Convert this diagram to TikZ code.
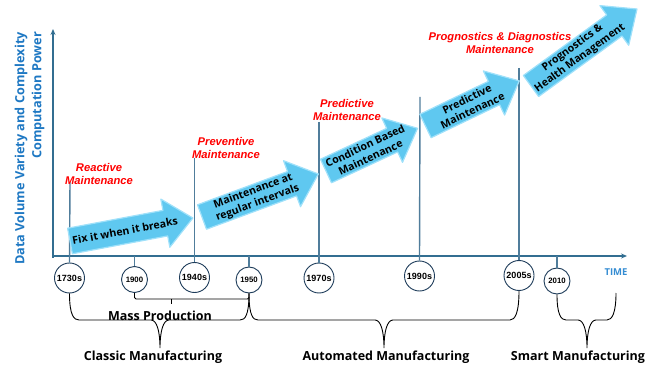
\documentclass[tikz,border=0pt]{standalone}
\usepackage{fontspec}
\setmainfont{Liberation Sans}
\newfontfamily\osans{Open Sans}
\usetikzlibrary{arrows.meta}
\definecolor{ylab}{RGB}{30,120,195}
\definecolor{timec}{RGB}{52,140,210}
\definecolor{axisc}{RGB}{50,110,145}
\definecolor{evc}{RGB}{80,125,155}
\definecolor{circc}{RGB}{30,60,90}
\definecolor{arrfill}{RGB}{95,200,240}
\definecolor{arredge}{RGB}{160,225,250}
\definecolor{redlab}{RGB}{255,0,0}
\newcommand{\flowarrow}[7]{%
\begin{scope}[shift={(#1,#2)}, rotate=#3]
\path[arrowbody] (0,-13) -- ({#4-28},-13) -- ({#4-28},-24.5) -- (#4,0) -- ({#4-28},24.5) -- ({#4-28},13) -- (0,13) -- cycle;
\node[arrowtext] (#6) at (#5,0) {#7};
\end{scope}}
\begin{document}
\begin{tikzpicture}[x=1pt,y=-1pt,
  axisline/.style={draw=axisc, line width=1.4pt},
  evline/.style={draw=evc, line width=1.4pt},
  yearc/.style={circle, draw=circc, fill=white, line width=0.9pt, inner sep=0pt, font=\bfseries\fontsize{9}{10}\selectfont},
  smallyear/.style={yearc, font=\bfseries\fontsize{7.8}{9}\selectfont},
  arrowbody/.style={fill=arrfill, draw=arredge, line width=1.2pt, line join=round},
  arrowtext/.style={align=center, transform shape, inner sep=0pt, font=\osans\bfseries\fontsize{10.6}{12.6}\selectfont},
  redtext/.style={align=center, inner sep=0pt, text=redlab, font=\bfseries\itshape\fontsize{11.2}{13.5}\selectfont},
  bracelab/.style={inner sep=0pt, font=\osans\bfseries\fontsize{12.5}{14}\selectfont},
  brace/.style={draw=black, line width=0.9pt},
]
\useasboundingbox (0,0) rectangle (656,366);
% axes
\coordinate (yb) at (53,258);
\coordinate (yt) at (53,29);
\coordinate (xl) at (52,256);
\coordinate (xr) at (627,256);
\draw[axisline, -{Stealth[length=6pt,width=5pt]}] (yb) -- (yt);
\draw[axisline, -{Stealth[length=6pt,width=5pt]}] (xl) -- (xr);
% y label
\node[rotate=90, anchor=east, inner sep=0pt, text=ylab, font=\osans\bfseries\fontsize{12.7}{14}\selectfont] (ylab1) at (21,32) {Data Volume Variety and Complexity};
\node[rotate=90, anchor=east, inner sep=0pt, text=ylab, font=\osans\bfseries\fontsize{12.7}{14}\selectfont] (ylab2) at (38,32) {Computation Power};
\node[inner sep=0pt, text=timec, font=\osans\bfseries\fontsize{9.5}{11}\selectfont] (time) at (616,272) {TIME};
% year circles
\node[yearc, minimum size=30pt] (c1730) at (69.5,278) {1730s};
\node[smallyear, minimum size=26pt] (c1900) at (134.5,279.5) {1900};
\node[yearc, minimum size=30pt] (c1940) at (194.5,277.5) {1940s};
\node[smallyear, minimum size=26pt] (c1950) at (249,280) {1950};
\node[yearc, minimum size=30pt] (c1970) at (319,278) {1970s};
\node[yearc, minimum size=30pt] (c1990) at (419.5,276) {1990s};
\node[yearc, minimum size=30pt] (c2005) at (519,275.5) {2005s};
\node[smallyear, minimum size=26pt] (c2010) at (557,281) {2010};
% event lines
\coordinate (t1730) at (70,182);
\coordinate (t1900) at (134.5,256);
\coordinate (t1940) at (194.5,158);
\coordinate (t1950) at (249,256);
\coordinate (t1970) at (319,122);
\coordinate (t1990) at (420,97);
\coordinate (t2005) at (519,68);
\coordinate (t2010) at (557,256);
\draw[evline] (t1730) -- (c1730.north);
\draw[evline] (t1900) -- (c1900.north);
\draw[evline] (t1940) -- (c1940.north);
\draw[evline] (t1950) -- (c1950.north);
\draw[evline] (t1970) -- (c1970.north);
\draw[evline] (t1990) -- (c1990.north);
\draw[evline] (t2005) -- (c2005.north);
\draw[evline] (t2010) -- (c2010.north);
% flow arrows
\flowarrow{70}{241}{10.6}{125}{56}{a1}{Fix it when it breaks}
\flowarrow{202}{217}{20.3}{124}{57}{a2}{Maintenance at\\regular intervals}
\flowarrow{326}{171}{25}{101}{46}{a3}{Condition Based\\Maintenance}
\flowarrow{425.5}{126}{25.7}{104}{49}{a4}{Predictive\\Maintenance}
\flowarrow{531}{86}{36}{131}{56}{a5}{Prognostics \&\\Health Management}
% red labels
\node[redtext] (r1) at (99,174) {Reactive\\Maintenance};
\node[redtext] (r2) at (226,148) {Preventive\\Maintenance};
\node[redtext] (r3) at (347,110) {Predictive\\Maintenance};
\node[redtext] (r4) at (500,43) {Prognostics \& Diagnostics\\Maintenance};
% mass production bracket
\coordinate (mp1) at (134.5,299);
\coordinate (mp2) at (249,299);
\coordinate (mpc) at (171,299);
\coordinate (mpt) at (171,304);
\draw[brace, rounded corners=1.5pt] (c1900.south) -- (mp1) -- (mp2) -- (c1950.south);
\draw[brace] (mpc) -- (mpt);
\node[bracelab] (mass) at (160,316) {Mass Production};
% classic brace
\draw[brace] (c1730.south) .. controls +(0,22) and +(-5,0) .. (79,320) -- (151,320) .. controls +(6,0) and +(0,-16) .. (160,348) .. controls +(0,-16) and +(-6,0) .. (169,320) -- (240,320) .. controls +(5,0) and +(0,22) .. (c1950.south);
\node[bracelab] (classic) at (153,357) {Classic Manufacturing};
% automated brace
\draw[brace] (c1950.south) .. controls +(0,22) and +(-5,0) .. (258,320) -- (375,320) .. controls +(6,0) and +(0,-16) .. (384,348) .. controls +(0,-16) and +(-6,0) .. (393,320) -- (510,320) .. controls +(5,0) and +(0,22) .. (c2005.south);
\node[bracelab] (automated) at (386,357) {Automated Manufacturing};
% smart brace
\coordinate (smartend) at (616,293);
\draw[brace] (c2010.south) .. controls +(0,20) and +(-5,0) .. (566,320) -- (578,320) .. controls +(6,0) and +(0,-16) .. (587,348) .. controls +(0,-16) and +(-6,0) .. (596,320) -- (607,320) .. controls +(5,0) and +(0,20) .. (smartend);
\node[bracelab] (smart) at (578,357) {Smart Manufacturing};
\end{tikzpicture}
\end{document}
